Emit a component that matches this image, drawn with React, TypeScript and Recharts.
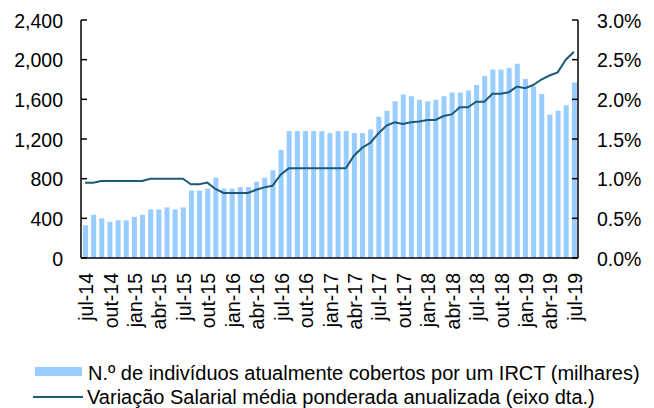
import { ComposedChart, Bar, Line, XAxis, YAxis, Legend } from "recharts";

const months = [
  "jul-14", "ago-14", "set-14", "out-14", "nov-14", "dez-14",
  "jan-15", "fev-15", "mar-15", "abr-15", "mai-15", "jun-15",
  "jul-15", "ago-15", "set-15", "out-15", "nov-15", "dez-15",
  "jan-16", "fev-16", "mar-16", "abr-16", "mai-16", "jun-16",
  "jul-16", "ago-16", "set-16", "out-16", "nov-16", "dez-16",
  "jan-17", "fev-17", "mar-17", "abr-17", "mai-17", "jun-17",
  "jul-17", "ago-17", "set-17", "out-17", "nov-17", "dez-17",
  "jan-18", "fev-18", "mar-18", "abr-18", "mai-18", "jun-18",
  "jul-18", "ago-18", "set-18", "out-18", "nov-18", "dez-18",
  "jan-19", "fev-19", "mar-19", "abr-19", "mai-19", "jun-19",
  "jul-19",
];

// N.º de indivíduos cobertos por um IRCT (milhares)
const workers = [
  330, 435, 400, 365, 380, 380,
  415, 435, 490, 490, 510, 490,
  510, 680, 680, 700, 810, 700,
  700, 715, 715, 770, 810, 885,
  1090, 1280, 1280, 1280, 1280, 1280,
  1260, 1280, 1280, 1260, 1260, 1295,
  1425, 1485, 1580, 1650, 1630, 1595,
  1580, 1595, 1630, 1670, 1670, 1690,
  1745, 1835, 1900, 1900, 1915, 1960,
  1805, 1730, 1655, 1445, 1485, 1540,
  1770,
];

// Variação salarial média ponderada anualizada (%)
const wageGrowth = [
  0.95, 0.95, 0.97, 0.97, 0.97, 0.97,
  0.97, 0.97, 1.0, 1.0, 1.0, 1.0,
  1.0, 0.93, 0.93, 0.95, 0.87, 0.82,
  0.82, 0.82, 0.82, 0.86, 0.89, 0.91,
  1.05, 1.13, 1.13, 1.13, 1.13, 1.13,
  1.13, 1.13, 1.13, 1.29, 1.39, 1.45,
  1.57, 1.67, 1.71, 1.69, 1.71, 1.72,
  1.74, 1.74, 1.79, 1.81, 1.9, 1.9,
  1.97, 1.97, 2.07, 2.07, 2.09, 2.16,
  2.14, 2.18, 2.25, 2.3, 2.34, 2.5,
  2.6,
];

const leftTicks = [0, 400, 800, 1200, 1600, 2000, 2400];
const rightTicks = [0, 0.5, 1, 1.5, 2, 2.5, 3];

const data = months.map((m, i) => ({ m, workers: workers[i], wage: wageGrowth[i] }));

const FONT = "'Liberation Sans', Arial, sans-serif";
const BAR_COLOR = "#99CCFF";
const LINE_COLOR = "#1B5A78";

const XTick = (props: any) => {
  const { x, y, payload } = props;
  const ax = x + 1;
  const ay = y + 15;
  return (
    <text
      x={ax}
      y={ay}
      transform={`rotate(-90, ${ax}, ${ay})`}
      textAnchor="end"
      dominantBaseline="central"
      fontSize={19.5}
      fontFamily={FONT}
      fill="#000"
    >
      {payload.value}
    </text>
  );
};

const LeftTick = (props: any) => {
  const { x, y, payload } = props;
  return (
    <g>
      <line x1={x} x2={x + 6} y1={y} y2={y} stroke="#000" strokeWidth={1.5} />
      <text x={x - 18} y={y} dy={7.5} textAnchor="end" fontSize={19.5} fontFamily={FONT} fill="#000">
        {payload.value.toLocaleString("en-US")}
      </text>
    </g>
  );
};

const RightTick = (props: any) => {
  const { x, y, payload } = props;
  return (
    <g>
      <line x1={x - 6} x2={x} y1={y} y2={y} stroke="#000" strokeWidth={1.5} />
      <text x={x + 19} y={y} dy={7.5} textAnchor="start" fontSize={19.5} fontFamily={FONT} fill="#000">
        {payload.value.toFixed(1) + "%"}
      </text>
    </g>
  );
};

const renderLegend = () => (
  <svg width={654} height={53} style={{ display: "block" }}>
    <rect x={35} y={12} width={47} height={9} fill={BAR_COLOR} />
    <text x={88} y={25} fontSize={20} fontFamily={FONT} fill="#000">
      N.º de indivíduos atualmente cobertos por um IRCT (milhares)
    </text>
    <line x1={33} x2={83} y1={42} y2={42} stroke={LINE_COLOR} strokeWidth={2} />
    <text x={87} y={49} fontSize={20} fontFamily={FONT} fill="#000">
      Variação Salarial média ponderada anualizada (eixo dta.)
    </text>
  </svg>
);

export default function App() {
  return (
    <div style={{ position: "absolute", left: 0, top: 0, width: 654, height: 408, background: "#fff" }}>
      <ComposedChart
        width={654}
        height={408}
        data={data}
        margin={{ top: 20, right: 6, left: 11, bottom: 70 }}
      >
        <XAxis
          dataKey="m"
          interval={2}
          tickLine={false}
          tickSize={0}
          tickMargin={0}
          height={80}
          axisLine={{ stroke: "#000", strokeWidth: 1.5 }}
          tick={<XTick />}
        />
        <YAxis
          yAxisId="left"
          orientation="left"
          width={70}
          domain={[0, 2400]}
          ticks={leftTicks}
          tickLine={false}
          tickSize={0}
          tickMargin={0}
          axisLine={{ stroke: "#000", strokeWidth: 1.5 }}
          tick={<LeftTick />}
        />
        <YAxis
          yAxisId="right"
          orientation="right"
          width={70}
          domain={[0, 3]}
          ticks={rightTicks}
          tickLine={false}
          tickSize={0}
          tickMargin={0}
          axisLine={{ stroke: "#000", strokeWidth: 1.5 }}
          tick={<RightTick />}
        />
        <Legend
          layout="vertical"
          align="center"
          verticalAlign="middle"
          content={renderLegend}
          wrapperStyle={{ position: "absolute", left: 0, top: 355, width: 654, height: 53 }}
        />
        <Bar yAxisId="left" dataKey="workers" fill={BAR_COLOR} barSize={5} isAnimationActive={false} />
        <Line
          yAxisId="right"
          dataKey="wage"
          type="linear"
          stroke={LINE_COLOR}
          strokeWidth={2}
          dot={false}
          isAnimationActive={false}
        />
      </ComposedChart>
    </div>
  );
}
